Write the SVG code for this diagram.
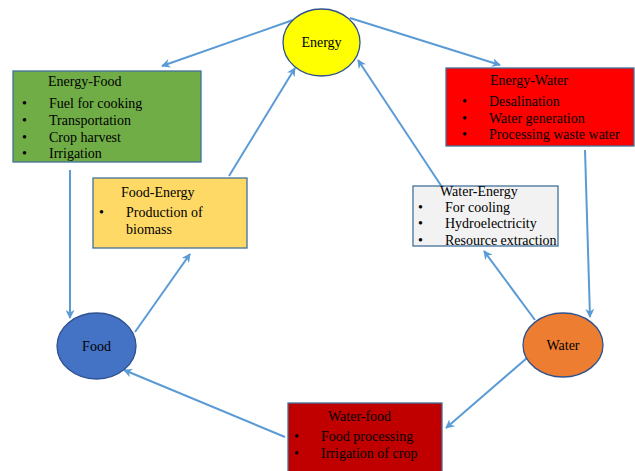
<svg xmlns="http://www.w3.org/2000/svg" width="635" height="471" viewBox="0 0 635 471">
<defs>
<marker id="ah" viewBox="0 0 10 10" refX="9" refY="5" markerWidth="4.5" markerHeight="4.5" orient="auto" markerUnits="strokeWidth">
<path d="M0,0 L10,5 L0,10 L3,5 Z" fill="#5b9bd5"/>
</marker>
</defs>
<style>
text{font-family:"Liberation Serif","Times New Roman",serif;font-size:14px;fill:#000}
.box{stroke:#41719c;stroke-width:1.3}
.ell{stroke:#2f528f;stroke-width:1.3}
.c{stroke:#5b9bd5;stroke-width:2;fill:none;marker-end:url(#ah)}
.m{text-anchor:middle}
</style>
<rect width="635" height="471" fill="#fff"/>
<g id="connectors">
<line class="c" x1="293" y1="20" x2="162" y2="66"/>
<line class="c" x1="350" y1="18" x2="500" y2="65"/>
<line class="c" x1="70" y1="170" x2="70" y2="318"/>
<line class="c" x1="135" y1="332" x2="190" y2="254"/>
<line class="c" x1="229" y1="176" x2="295" y2="68"/>
<line class="c" x1="442" y1="187" x2="358" y2="60"/>
<line class="c" x1="585" y1="150" x2="590" y2="317"/>
<line class="c" x1="535" y1="320" x2="484" y2="251"/>
<line class="c" x1="527" y1="358" x2="446" y2="428"/>
<line class="c" x1="285" y1="437" x2="124" y2="370"/>
</g>
<g id="energy">
<ellipse class="ell" cx="321.5" cy="42.5" rx="38.5" ry="33.5" fill="#ffff00"/>
<text class="m" x="321.5" y="47">Energy</text>
</g>
<g id="food">
<ellipse class="ell" cx="96.5" cy="346" rx="39.5" ry="33" fill="#4472c4"/>
<text class="m" x="96.5" y="351">Food</text>
</g>
<g id="water">
<ellipse class="ell" cx="563" cy="345" rx="40" ry="32" fill="#ed7d31"/>
<text class="m" x="563" y="350">Water</text>
</g>
<g id="energy-food">
<rect class="box" x="13" y="71" width="188" height="91" fill="#70ad47"/>
<text x="48" y="86">Energy-Food</text>
<text x="22" y="108">•</text><text x="49" y="108">Fuel for cooking</text>
<text x="22" y="125">•</text><text x="49" y="125">Transportation</text>
<text x="22" y="142">•</text><text x="49" y="142">Crop harvest</text>
<text x="22" y="158">•</text><text x="49" y="158">Irrigation</text>
</g>
<g id="energy-water">
<rect class="box" x="446" y="68" width="188" height="78" fill="#ff0000"/>
<text x="490" y="85">Energy-Water</text>
<text x="462" y="106">•</text><text x="489" y="106">Desalination</text>
<text x="462" y="123">•</text><text x="489" y="123">Water generation</text>
<text x="462" y="139">•</text><text x="489" y="139">Processing waste water</text>
</g>
<g id="food-energy">
<rect class="box" x="93" y="178" width="154" height="70" fill="#ffd966"/>
<text x="121" y="197">Food-Energy</text>
<text x="99" y="217">•</text><text x="126" y="217">Production of</text>
<text x="126" y="234">biomass</text>
</g>
<g id="water-energy">
<rect class="box" x="413" y="186" width="145" height="60" fill="#f2f2f2" stroke="#2f5597"/>
<text x="440" y="196" font-size="13.5">Water-Energy</text>
<text x="418" y="211.5">•</text><text x="445" y="211.5">For cooling</text>
<text x="418" y="228">•</text><text x="445" y="228">Hydroelectricity</text>
<text x="418" y="244.5">•</text><text x="445" y="244.5">Resource extraction</text>
</g>
<g id="water-food">
<rect class="box" x="288" y="403" width="154" height="70" fill="#c00000"/>
<text x="328" y="421">Water-food</text>
<text x="294" y="441">•</text><text x="321" y="441">Food processing</text>
<text x="294" y="458">•</text><text x="321" y="458">Irrigation  of crop</text>
</g>
</svg>
